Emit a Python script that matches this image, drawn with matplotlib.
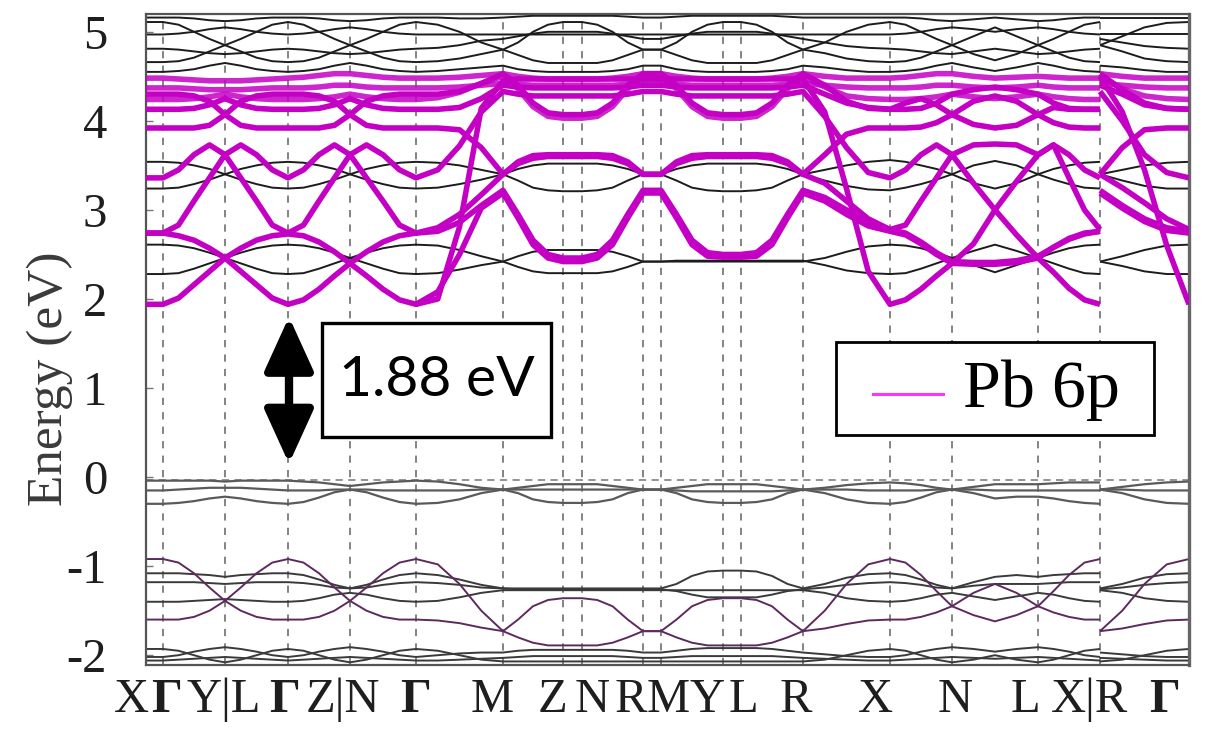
import numpy as np
import matplotlib
matplotlib.use("Agg")
import matplotlib.pyplot as plt
from matplotlib.patches import Rectangle
from matplotlib.lines import Line2D
from matplotlib.font_manager import FontProperties

SERIF = ["Liberation Serif", "DejaVu Serif"]
plt.rcParams["axes.unicode_minus"] = False
plt.rcParams["font.family"] = SERIF
nan = float("nan")

# ---------------- k-path ----------------
node_k = [0, 17, 79, 142, 204, 270, 357, 417, 436, 497, 515, 577, 595, 657, 744, 806, 892, 954, 954, 1043]
seg_samples = [0, 3, 3, 3, 3, 3, 3, 0, 3, 0, 3, 0, 3, 3, 3, 3, 3, 0, 3]
break_index = 57  # X|R discontinuity

xtick_labels = ["X", "Γ", "Y|L", "Γ", "Z|N", "Γ", "M", "Z", "N", "R", "M", "Y", "L", "R", "X", "N", "L", "X|R", "Γ"]
xtick_label_pos = [-15, 21, 78, 139, 197, 270, 346, 406, 446, 485, 522, 561, 597, 650, 729, 809, 879, 944, 1019]
yticks = [-2, -1, 0, 1, 2, 3, 4, 5]

# ---------------- Pb 6p projected bands (eV) ----------------
pb_1 = [1.94, 1.94,
        2.01, 2.16, 2.31, 2.46,  2.57, 2.66, 2.71, 2.73,
        2.71, 2.64, 2.53, 2.40,  2.26, 2.11, 1.99, 1.94,
        2.08, 2.50, 3.02, 3.19,  2.91, 2.61, 2.46, 2.42,  2.42,
        2.46, 2.61, 2.91, 3.19,  3.19,
        2.91, 2.61, 2.48, 2.47,  2.47,
        2.48, 2.61, 2.91, 3.19,  3.10, 2.95, 2.82, 2.76,
        2.72, 2.62, 2.50, 2.40,  2.39, 2.39, 2.41, 2.46,
        2.30, 2.12, 1.99, 1.94,  3.19,
        3.02, 2.87, 2.77, 2.74]
pb_2 = [2.74, 2.74,
        2.71, 2.66, 2.57, 2.46,  2.31, 2.16, 2.01, 1.94,
        1.99, 2.11, 2.26, 2.40,  2.53, 2.64, 2.71, 2.74,
        2.80, 2.95, 3.17, 3.40,  3.54, 3.61, 3.62, 3.62,  3.62,
        3.62, 3.61, 3.54, 3.40,  3.40,
        3.54, 3.61, 3.62, 3.62,  3.62,
        3.62, 3.61, 3.54, 3.40,  3.62, 3.85, 3.92, 3.92,
        3.92, 3.93, 3.98, 4.07,  3.96, 3.92, 3.95, 4.07,
        3.98, 3.93, 3.92, 3.92,  3.40,
        3.70, 3.90, 3.92, 3.92]
pb_3 = [3.36, 3.36,
        3.45, 3.62, 3.73, 3.62,  3.36, 3.10, 2.83, 2.74,
        2.83, 3.10, 3.36, 3.62,  3.73, 3.62, 3.45, 3.36,
        3.45, 3.72, 4.10, 4.33,  4.30, 4.28, 4.28, 4.28,  4.28,
        4.28, 4.28, 4.30, 4.33,  4.33,
        4.30, 4.28, 4.28, 4.28,  4.28,
        4.28, 4.28, 4.30, 4.33,  4.05, 3.70, 3.42, 3.36,
        3.45, 3.62, 3.73, 3.62,  3.30, 3.00, 2.72, 2.46,
        2.58, 2.67, 2.73, 2.76,  4.33,
        4.00, 3.62, 3.42, 3.36]
pb_4 = [2.74, 2.74,
        2.83, 3.10, 3.36, 3.62,  3.73, 3.62, 3.45, 3.36,
        3.45, 3.62, 3.73, 3.62,  3.36, 3.10, 2.83, 2.74,
        2.76, 2.86, 3.05, 3.22,  2.95, 2.66, 2.50, 2.46,  2.46,
        2.50, 2.66, 2.95, 3.22,  3.22,
        2.95, 2.66, 2.52, 2.50,  2.50,
        2.52, 2.66, 2.95, 3.22,  3.14, 3.00, 2.86, 2.78,
        2.74, 2.64, 2.52, 2.42,  2.41, 2.41, 2.43, 2.48,
        2.58, 2.68, 2.74, 2.76,  3.22,
        3.05, 2.90, 2.80, 2.76]
pb_5 = [3.92, 3.92,
        3.92, 3.92, 3.95, 4.07,  4.22, 4.28, 4.30, 4.30,
        4.30, 4.28, 4.22, 4.07,  3.95, 3.92, 3.92, 3.92,
        3.92, 3.90, 3.70, 3.40,  3.52, 3.58, 3.60, 3.60,  3.60,
        3.60, 3.58, 3.52, 3.40,  3.40,
        3.52, 3.58, 3.60, 3.60,  3.60,
        3.60, 3.58, 3.52, 3.40,  3.30, 3.10, 2.90, 2.78,
        2.83, 3.10, 3.36, 3.62,  3.73, 3.74, 3.73, 3.62,
        3.73, 3.62, 3.45, 3.36,  3.40,
        3.25, 3.08, 2.90, 2.78]
pb_6 = [4.30, 4.30,
        4.30, 4.28, 4.22, 4.07,  3.95, 3.92, 3.92, 3.92,
        3.92, 3.92, 3.95, 4.07,  4.22, 4.28, 4.30, 4.30,
        4.30, 4.33, 4.42, 4.53,  4.40, 4.20, 4.09, 4.07,  4.07,
        4.09, 4.20, 4.40, 4.53,  4.53,
        4.40, 4.20, 4.09, 4.07,  4.07,
        4.09, 4.20, 4.40, 4.53,  4.40, 4.22, 4.14, 4.13,
        4.20, 4.25, 4.18, 4.07,  4.22, 4.28, 4.22, 4.07,
        4.15, 4.13, 4.13, 4.13,  4.53,
        4.35, 4.20, 4.14, 4.13]
pb_7 = [nan, nan,
        nan, nan, nan, nan,  nan, nan, nan, nan,
        nan, nan, nan, nan,  nan, nan, nan, 1.94,
        2.00, 2.81, 4.14, 4.45,  4.47, 4.47, 4.47, 4.47,  4.47,
        4.47, 4.47, 4.47, 4.47,  4.47,
        4.47, 4.47, 4.47, 4.47,  4.47,
        4.47, 4.47, 4.47, 4.47,  4.10, 3.24, 2.31, 1.94,
        1.99, 2.11, 2.26, 2.40,  2.62, 3.00, 3.32, 3.62,
        3.73, 3.36, 3.00, 2.78,  4.50,
        4.10, 3.45, 2.60, 1.94]
pb_8 = [4.13, 4.13,
        4.13, 4.14, 4.18, 4.25,  4.18, 4.14, 4.13, 4.13,
        4.13, 4.14, 4.18, 4.25,  4.18, 4.14, 4.13, 4.13,
        4.13, 4.15, 4.25, 4.40,  4.38, 4.37, 4.37, 4.37,  4.37,
        4.37, 4.37, 4.38, 4.40,  4.40,
        4.38, 4.37, 4.37, 4.37,  4.37,
        4.37, 4.37, 4.38, 4.40,  4.30, 4.20, 4.15, 4.13,
        4.13, 4.14, 4.20, 4.30,  4.35, 4.38, 4.35, 4.30,
        4.20, 4.14, 4.13, 4.13,  4.40,
        4.30, 4.18, 4.14, 4.13]
pb_top_1 = [4.48, 4.48,
            4.47, 4.46, 4.45, 4.45,  4.45, 4.46, 4.47, 4.48,
            4.49, 4.51, 4.53, 4.53,  4.51, 4.49, 4.48, 4.48,
            4.48, 4.49, 4.51, 4.53,  4.50, 4.48, 4.47, 4.47,  4.47,
            4.47, 4.48, 4.50, 4.53,  4.53,
            4.50, 4.48, 4.47, 4.47,  4.47,
            4.47, 4.48, 4.50, 4.53,  4.50, 4.48, 4.48, 4.48,
            4.49, 4.51, 4.53, 4.53,  4.50, 4.48, 4.49, 4.50,
            4.49, 4.48, 4.48, 4.48,  4.53,
            4.50, 4.48, 4.48, 4.48]
pb_top_2 = [4.37, 4.37,
            4.37, 4.36, 4.35, 4.35,  4.35, 4.36, 4.37, 4.37,
            4.37, 4.38, 4.40, 4.40,  4.38, 4.37, 4.37, 4.37,
            4.37, 4.38, 4.40, 4.42,  4.41, 4.40, 4.40, 4.40,  4.40,
            4.40, 4.40, 4.41, 4.42,  4.42,
            4.41, 4.40, 4.40, 4.40,  4.40,
            4.40, 4.40, 4.41, 4.42,  4.40, 4.38, 4.37, 4.37,
            4.37, 4.38, 4.40, 4.40,  4.38, 4.37, 4.38, 4.40,
            4.38, 4.37, 4.37, 4.37,  4.42,
            4.40, 4.38, 4.37, 4.37]
pb_top_3 = [4.24, 4.24,
            4.24, 4.25, 4.27, 4.30,  4.27, 4.25, 4.24, 4.24,
            4.24, 4.25, 4.27, 4.30,  4.27, 4.25, 4.24, 4.24,
            4.26, 4.32, 4.42, 4.50,  4.36, 4.16, 4.05, 4.03,  4.03,
            4.05, 4.16, 4.36, 4.50,  4.50,
            4.36, 4.16, 4.05, 4.03,  4.03,
            4.05, 4.16, 4.36, 4.50,  4.38, 4.28, 4.25, 4.24,
            4.24, 4.25, 4.27, 4.30,  4.27, 4.25, 4.27, 4.30,
            4.27, 4.25, 4.24, 4.24,  4.50,
            4.36, 4.28, 4.25, 4.24]

# ---------------- other conduction bands (eV) ----------------
cb_1 = [3.54, 3.54,
        3.53, 3.50, 3.46, 3.40,  3.34, 3.29, 3.25, 3.24,
        3.25, 3.29, 3.34, 3.40,  3.46, 3.50, 3.53, 3.54,
        3.53, 3.50, 3.45, 3.40,  3.33, 3.25, 3.22, 3.21,  3.21,
        3.22, 3.25, 3.33, 3.40,  3.40,
        3.33, 3.25, 3.22, 3.21,  3.21,
        3.22, 3.25, 3.33, 3.40,  3.45, 3.50, 3.54, 3.56,
        3.54, 3.50, 3.46, 3.40,  3.30, 3.24, 3.30, 3.40,
        3.46, 3.50, 3.53, 3.54,  3.40,
        3.45, 3.50, 3.53, 3.54]
cb_2 = [3.24, 3.24,
        3.25, 3.29, 3.34, 3.40,  3.46, 3.50, 3.53, 3.54,
        3.53, 3.50, 3.46, 3.40,  3.34, 3.29, 3.25, 3.24,
        3.25, 3.29, 3.34, 3.40,  3.46, 3.50, 3.52, 3.52,  3.52,
        3.52, 3.50, 3.46, 3.40,  3.40,
        3.46, 3.50, 3.52, 3.52,  3.52,
        3.52, 3.50, 3.46, 3.40,  3.33, 3.27, 3.23, 3.22,
        3.25, 3.29, 3.34, 3.40,  3.50, 3.55, 3.50, 3.40,
        3.34, 3.29, 3.25, 3.24,  3.40,
        3.33, 3.27, 3.24, 3.24]
cb_3 = [2.61, 2.61,
        2.60, 2.57, 2.52, 2.46,  2.40, 2.34, 2.29, 2.28,
        2.29, 2.34, 2.40, 2.46,  2.52, 2.57, 2.60, 2.61,
        2.60, 2.55, 2.48, 2.42,  2.48, 2.53, 2.55, 2.55,  2.55,
        2.55, 2.53, 2.48, 2.42,  2.42,
        2.42, 2.42, 2.42, 2.42,  2.42,
        2.42, 2.42, 2.42, 2.42,  2.46, 2.53, 2.59, 2.61,
        2.60, 2.57, 2.52, 2.46,  2.38, 2.30, 2.38, 2.46,
        2.52, 2.57, 2.60, 2.61,  2.42,
        2.48, 2.55, 2.60, 2.61]
cb_4 = [2.28, 2.28,
        2.29, 2.34, 2.40, 2.46,  2.52, 2.57, 2.60, 2.61,
        2.60, 2.57, 2.52, 2.46,  2.40, 2.34, 2.29, 2.28,
        2.29, 2.33, 2.38, 2.42,  2.36, 2.31, 2.29, 2.29,  2.29,
        2.29, 2.31, 2.36, 2.42,  2.42,
        2.43, 2.43, 2.43, 2.43,  2.43,
        2.43, 2.43, 2.43, 2.43,  2.38, 2.32, 2.29, 2.28,
        2.29, 2.34, 2.40, 2.46,  2.54, 2.61, 2.54, 2.46,
        2.40, 2.34, 2.29, 2.28,  2.42,
        2.37, 2.31, 2.28, 2.28]
hi_1 = [5.11, 5.11,
        5.08, 5.00, 4.92, 4.85,  4.78, 4.71, 4.67, 4.66,
        4.67, 4.71, 4.78, 4.85,  4.92, 5.00, 5.08, 5.11,
        5.08, 5.00, 4.88, 4.80,  4.74, 4.68, 4.65, 4.65,  4.65,
        4.65, 4.68, 4.74, 4.80,  4.80,
        4.74, 4.68, 4.65, 4.65,  4.65,
        4.65, 4.68, 4.74, 4.80,  4.88, 5.00, 5.08, 5.11,
        5.08, 5.00, 4.92, 4.85,  4.75, 4.68, 4.75, 4.85,
        4.92, 5.00, 5.08, 5.11,  4.85,
        4.95, 5.05, 5.10, 5.11]
hi_2 = [4.66, 4.66,
        4.67, 4.71, 4.78, 4.85,  4.92, 5.00, 5.08, 5.11,
        5.08, 5.00, 4.92, 4.85,  4.78, 4.71, 4.67, 4.66,
        4.67, 4.70, 4.75, 4.80,  4.88, 5.00, 5.08, 5.11,  5.11,
        5.08, 5.00, 4.88, 4.80,  4.80,
        4.88, 5.00, 5.08, 5.11,  5.11,
        5.08, 5.00, 4.88, 4.80,  4.76, 4.70, 4.67, 4.66,
        4.67, 4.71, 4.78, 4.85,  4.95, 5.05, 4.95, 4.85,
        4.78, 4.71, 4.67, 4.66,  4.85,
        4.78, 4.70, 4.67, 4.66]
hi_3 = [4.97, 4.97,
        4.98, 5.00, 5.03, 5.05,  5.03, 5.00, 4.98, 4.97,
        4.98, 5.00, 5.03, 5.05,  5.03, 5.00, 4.98, 4.97,
        4.97, 4.97, 4.97, 4.97,  4.97, 4.97, 4.97, 4.97,  4.97,
        4.97, 4.97, 4.97, 4.97,  4.97,
        4.97, 4.97, 4.97, 4.97,  4.97,
        4.97, 4.97, 4.97, 4.97,  4.97, 4.97, 4.97, 4.97,
        4.98, 5.00, 5.03, 5.05,  5.03, 5.00, 5.03, 5.05,
        5.03, 5.00, 4.98, 4.97,  4.97,
        4.97, 4.97, 4.97, 4.97]
hi_4 = [4.55, 4.55,
        4.56, 4.58, 4.62, 4.65,  4.62, 4.58, 4.56, 4.55,
        4.56, 4.58, 4.62, 4.65,  4.62, 4.58, 4.56, 4.55,
        4.56, 4.58, 4.60, 4.62,  4.58, 4.56, 4.55, 4.55,  4.55,
        4.55, 4.56, 4.58, 4.62,  4.62,
        4.58, 4.56, 4.55, 4.55,  4.55,
        4.55, 4.56, 4.58, 4.62,  4.60, 4.57, 4.55, 4.55,
        4.56, 4.58, 4.62, 4.65,  4.60, 4.56, 4.60, 4.65,
        4.62, 4.58, 4.56, 4.55,  4.62,
        4.60, 4.57, 4.55, 4.55]
hi_5 = [4.81, 4.81,
        4.80, 4.78, 4.76, 4.75,  4.76, 4.78, 4.80, 4.81,
        4.80, 4.78, 4.76, 4.75,  4.76, 4.78, 4.80, 4.81,
        4.82, 4.85, 4.90, 4.92,  4.95, 4.98, 5.00, 5.00,  5.00,
        5.00, 4.98, 4.95, 4.92,  4.92,
        4.95, 4.98, 5.00, 5.00,  5.00,
        5.00, 4.98, 4.95, 4.92,  4.88, 4.84, 4.82, 4.81,
        4.80, 4.78, 4.76, 4.75,  4.78, 4.81, 4.78, 4.75,
        4.76, 4.78, 4.80, 4.81,  4.92,
        4.88, 4.84, 4.82, 4.81]
hi_6 = [5.16, 5.16,
        5.16, 5.15, 5.13, 5.12,  5.13, 5.15, 5.16, 5.16,
        5.16, 5.15, 5.13, 5.12,  5.13, 5.15, 5.16, 5.16,
        5.16, 5.15, 5.15, 5.16,  5.17, 5.18, 5.18, 5.18,  5.18,
        5.18, 5.18, 5.17, 5.16,  5.16,
        5.17, 5.18, 5.18, 5.18,  5.18,
        5.18, 5.18, 5.17, 5.16,  5.16, 5.16, 5.16, 5.16,
        5.16, 5.15, 5.13, 5.12,  5.14, 5.16, 5.14, 5.12,
        5.13, 5.15, 5.16, 5.16,  5.16,
        5.16, 5.16, 5.16, 5.16]

# ---------------- valence bands (eV) ----------------
vb_1 = [-0.04, -0.04,
        -0.04, -0.04, -0.04, -0.05,  -0.04, -0.04, -0.04, -0.04,
        -0.05, -0.06, -0.08, -0.10,  -0.08, -0.06, -0.05, -0.04,
        -0.05, -0.08, -0.12, -0.14,  -0.12, -0.10, -0.08, -0.08,  -0.08,
        -0.08, -0.10, -0.12, -0.14,  -0.14,
        -0.12, -0.10, -0.08, -0.08,  -0.08,
        -0.08, -0.10, -0.12, -0.14,  -0.12, -0.09, -0.07, -0.06,
        -0.07, -0.09, -0.12, -0.14,  -0.11, -0.08, -0.08, -0.08,
        -0.07, -0.06, -0.06, -0.06,  -0.14,
        -0.11, -0.08, -0.06, -0.05]
vb_2 = [-0.15, -0.15,
        -0.14, -0.13, -0.12, -0.12,  -0.12, -0.13, -0.14, -0.15,
        -0.15, -0.15, -0.14, -0.14,  -0.14, -0.15, -0.15, -0.15,
        -0.15, -0.15, -0.14, -0.14,  -0.14, -0.14, -0.14, -0.14,  -0.14,
        -0.14, -0.14, -0.14, -0.14,  -0.14,
        -0.15, -0.16, -0.16, -0.16,  -0.16,
        -0.16, -0.16, -0.15, -0.14,  -0.14, -0.14, -0.15, -0.15,
        -0.15, -0.15, -0.14, -0.14,  -0.14, -0.15, -0.15, -0.15,
        -0.15, -0.15, -0.15, -0.15,  -0.14,
        -0.14, -0.15, -0.15, -0.15]
vb_3 = [-0.30, -0.30,
        -0.29, -0.27, -0.24, -0.22,  -0.24, -0.27, -0.29, -0.30,
        -0.28, -0.23, -0.17, -0.14,  -0.17, -0.23, -0.28, -0.30,
        -0.29, -0.25, -0.18, -0.14,  -0.18, -0.25, -0.28, -0.29,  -0.29,
        -0.28, -0.25, -0.18, -0.14,  -0.14,
        -0.18, -0.25, -0.28, -0.29,  -0.29,
        -0.28, -0.25, -0.18, -0.14,  -0.18, -0.25, -0.29, -0.30,
        -0.28, -0.23, -0.17, -0.14,  -0.18, -0.24, -0.22, -0.22,
        -0.24, -0.27, -0.29, -0.30,  -0.14,
        -0.18, -0.25, -0.29, -0.30]
vb_4 = [-0.92, -0.92,
        -0.96, -1.08, -1.24, -1.39,  -1.50, -1.57, -1.60, -1.60,
        -1.60, -1.57, -1.50, -1.39,  -1.24, -1.08, -0.96, -0.92,
        -0.98, -1.20, -1.50, -1.73,  -1.60, -1.45, -1.38, -1.36,  -1.36,
        -1.38, -1.45, -1.60, -1.73,  -1.73,
        -1.60, -1.45, -1.38, -1.36,  -1.36,
        -1.38, -1.45, -1.60, -1.73,  -1.50, -1.20, -0.98, -0.92,
        -0.96, -1.10, -1.28, -1.45,  -1.55, -1.62, -1.55, -1.45,
        -1.28, -1.10, -0.96, -0.92,  -1.73,
        -1.50, -1.20, -0.98, -0.92]
vb_5 = [-1.60, -1.60,
        -1.60, -1.57, -1.50, -1.39,  -1.24, -1.08, -0.96, -0.92,
        -0.96, -1.08, -1.24, -1.39,  -1.50, -1.57, -1.60, -1.60,
        -1.61, -1.64, -1.69, -1.73,  -1.80, -1.86, -1.89, -1.89,  -1.89,
        -1.89, -1.86, -1.80, -1.73,  -1.73,
        -1.80, -1.86, -1.89, -1.89,  -1.89,
        -1.89, -1.86, -1.80, -1.73,  -1.70, -1.65, -1.61, -1.60,
        -1.60, -1.57, -1.52, -1.45,  -1.30, -1.20, -1.30, -1.45,
        -1.52, -1.57, -1.60, -1.60,  -1.73,
        -1.70, -1.65, -1.61, -1.60]
vb_6 = [-1.08, -1.08,
        -1.08, -1.09, -1.10, -1.12,  -1.10, -1.09, -1.08, -1.08,
        -1.10, -1.15, -1.21, -1.25,  -1.21, -1.15, -1.10, -1.08,
        -1.10, -1.15, -1.21, -1.25,  -1.25, -1.25, -1.25, -1.25,  -1.25,
        -1.25, -1.25, -1.25, -1.25,  -1.25,
        -1.20, -1.11, -1.06, -1.05,  -1.05,
        -1.06, -1.11, -1.20, -1.25,  -1.20, -1.13, -1.09, -1.08,
        -1.10, -1.15, -1.21, -1.25,  -1.18, -1.12, -1.10, -1.12,
        -1.10, -1.09, -1.08, -1.08,  -1.25,
        -1.20, -1.13, -1.09, -1.08]
vb_7 = [-1.18, -1.18,
        -1.18, -1.18, -1.19, -1.20,  -1.19, -1.18, -1.18, -1.18,
        -1.19, -1.21, -1.24, -1.25,  -1.24, -1.21, -1.19, -1.18,
        -1.19, -1.21, -1.24, -1.25,  -1.26, -1.26, -1.26, -1.26,  -1.26,
        -1.26, -1.26, -1.26, -1.26,  -1.26,
        -1.28, -1.32, -1.35, -1.35,  -1.35,
        -1.35, -1.32, -1.28, -1.26,  -1.24, -1.21, -1.19, -1.18,
        -1.19, -1.21, -1.24, -1.25,  -1.22, -1.20, -1.20, -1.20,
        -1.19, -1.18, -1.18, -1.18,  -1.26,
        -1.24, -1.21, -1.19, -1.18]
vb_8 = [-1.40, -1.40,
        -1.40, -1.39, -1.38, -1.37,  -1.38, -1.39, -1.40, -1.40,
        -1.39, -1.36, -1.32, -1.30,  -1.32, -1.36, -1.39, -1.40,
        -1.39, -1.35, -1.30, -1.27,  -1.27, -1.27, -1.27, -1.27,  -1.27,
        -1.27, -1.27, -1.27, -1.27,  -1.27,
        -1.27, -1.27, -1.27, -1.27,  -1.27,
        -1.27, -1.27, -1.27, -1.27,  -1.30, -1.36, -1.39, -1.40,
        -1.39, -1.36, -1.32, -1.30,  -1.34, -1.38, -1.34, -1.30,
        -1.32, -1.36, -1.39, -1.40,  -1.27,
        -1.30, -1.36, -1.39, -1.40]
vb_9 = [-2.02, -2.02,
        -2.00, -1.96, -1.93, -1.91,  -1.93, -1.96, -2.00, -2.02,
        -2.00, -1.96, -1.93, -1.91,  -1.93, -1.96, -2.00, -2.02,
        -2.00, -1.98, -1.97, -1.97,  -1.95, -1.94, -1.94, -1.94,  -1.94,
        -1.94, -1.94, -1.95, -1.97,  -1.97,
        -1.95, -1.93, -1.92, -1.92,  -1.92,
        -1.92, -1.93, -1.95, -1.97,  -1.99, -2.01, -2.02, -2.02,
        -2.00, -1.96, -1.93, -1.91,  -1.93, -1.96, -1.93, -1.91,
        -1.93, -1.96, -2.00, -2.02,  -1.97,
        -1.99, -2.01, -2.02, -2.02]
vb_10 = [-1.93, -1.93,
         -1.95, -2.00, -2.05, -2.08,  -2.05, -2.00, -1.95, -1.93,
         -1.95, -2.00, -2.05, -2.08,  -2.05, -2.00, -1.95, -1.93,
         -1.95, -2.00, -2.05, -2.07,  -2.07, -2.07, -2.07, -2.07,  -2.07,
         -2.07, -2.07, -2.07, -2.07,  -2.07,
         -2.07, -2.07, -2.07, -2.07,  -2.07,
         -2.07, -2.07, -2.07, -2.07,  -2.05, -2.00, -1.95, -1.93,
         -1.95, -2.00, -2.05, -2.08,  -2.05, -2.00, -2.05, -2.08,
         -2.05, -2.00, -1.95, -1.93,  -2.07,
         -2.05, -2.00, -1.95, -1.93]
vb_11 = [-2.06, -2.06,
         -2.05, -2.04, -2.03, -2.02,  -2.03, -2.04, -2.05, -2.06,
         -2.05, -2.04, -2.03, -2.02,  -2.03, -2.04, -2.05, -2.06,
         -2.06, -2.05, -2.04, -2.03,  -2.02, -2.01, -2.01, -2.01,  -2.01,
         -2.01, -2.01, -2.02, -2.03,  -2.03,
         -2.02, -2.01, -2.01, -2.01,  -2.01,
         -2.01, -2.01, -2.02, -2.03,  -2.04, -2.05, -2.06, -2.06,
         -2.05, -2.04, -2.03, -2.02,  -2.03, -2.04, -2.03, -2.02,
         -2.03, -2.04, -2.05, -2.06,  -2.03,
         -2.04, -2.05, -2.06, -2.06]

pb6p_bands = [pb_1, pb_2, pb_3, pb_4, pb_5, pb_6, pb_7, pb_8]
pb6p_top_bands = [pb_top_1, pb_top_2, pb_top_3]
black_cb_bands = [cb_1, cb_2, cb_3, cb_4, hi_1, hi_2, hi_3, hi_4, hi_5, hi_6]
vb_top_bands = [vb_1, vb_2, vb_3]
vb_low_bands = [vb_6, vb_7, vb_8, vb_9, vb_10, vb_11]
vb_pb_bands = [vb_4, vb_5]

gap_label = "1.88 eV"
legend_label = "Pb 6p"

# ---------------- build k grid ----------------
kgrid = [node_k[0]]
for i in range(len(node_k) - 1):
    a, b = node_k[i], node_k[i + 1]
    n = seg_samples[i]
    for j in range(1, n + 1):
        kgrid.append(a + (b - a) * j / (n + 1))
    kgrid.append(b)
kgrid = np.array(kgrid, dtype=float)

all_bands = pb6p_bands + pb6p_top_bands + black_cb_bands + vb_top_bands + vb_low_bands + vb_pb_bands
for bnd in all_bands:
    assert len(bnd) == len(kgrid), (len(bnd), len(kgrid))

# ---------------- figure ----------------
W, H = 1209, 733
fig = plt.figure(figsize=(W / 100, H / 100), dpi=100)
ax_l, ax_r, ax_t, ax_b = 146, 1189, 14, 665
ax = fig.add_axes([ax_l / W, 1 - ax_b / H, (ax_r - ax_l) / W, (ax_b - ax_t) / H])
ax.set_xlim(node_k[0], node_k[-1])
ax.set_ylim(-2.11, 5.20)


def draw(vals, **kw):
    v = np.array(vals, dtype=float)
    ax.plot(kgrid[:break_index], v[:break_index], solid_joinstyle="round", solid_capstyle="butt", **kw)
    ax.plot(kgrid[break_index:], v[break_index:], solid_joinstyle="round", solid_capstyle="butt", **kw)


# vertical dashed lines at high-symmetry points
for kx in sorted(set(node_k[1:-1])):
    ax.axvline(kx, color="#7a7a7a", lw=1.3, ls=(0, (4, 4)), zorder=1)
ax.axhline(-0.03, color="#8a8a8a", lw=1.3, ls=(0, (4, 3)), zorder=1)

for bnd in black_cb_bands:
    draw(bnd, color="#1c1c1c", lw=1.4, zorder=2)
for bnd in vb_top_bands:
    draw(bnd, color="#5a5a5a", lw=1.6, zorder=2)
for bnd in vb_low_bands:
    draw(bnd, color="#3a3a3a", lw=1.4, zorder=2)
for bnd in vb_pb_bands:
    draw(bnd, color="#5e2a5e", lw=1.4, zorder=2)

magenta = "#c400c4"
for bnd in pb6p_top_bands:
    draw(bnd, color=magenta, lw=4.0, alpha=0.85, zorder=3)
for bnd in pb6p_bands:
    draw(bnd, color=magenta, lw=4.0, zorder=4)

# axes styling
for side in ["left", "bottom", "top"]:
    ax.spines[side].set_color("#555555")
    ax.spines[side].set_linewidth(1.6)
ax.spines["right"].set_color("#666666")
ax.spines["right"].set_linewidth(2.4)

serif_fp = FontProperties(family="Liberation Serif", size=37)
ax.set_xticks([])
ax.set_yticks(yticks)
ax.set_yticklabels([str(t) for t in yticks], fontsize=35, color="#1e1e1e")
ax.tick_params(axis="y", direction="in", length=5, width=1, color="#777777", pad=28)
ax.set_ylabel("Energy (eV)", fontproperties=serif_fp, color="#3a3a3a")
ax.yaxis.set_label_coords(-0.07, 0.44)

xt = ax.get_xaxis_transform()
for lab, xp in zip(xtick_labels, xtick_label_pos):
    ax.text(xp, -0.053, lab, transform=xt, ha="center", va="center",
            fontsize=35, color="#1e1e1e", fontweight=("bold" if lab == "Γ" else "normal"),
            clip_on=False)

# band-gap arrow and box
ax.annotate("", xy=(143, 1.80), xytext=(143, 0.15),
            arrowprops=dict(arrowstyle="<|-|>,head_length=1.1,head_width=0.5",
                            mutation_scale=30, lw=6, color="black", shrinkA=0, shrinkB=0),
            zorder=6)
ax.add_patch(Rectangle((176, 0.45), 229, 1.28, facecolor="white", edgecolor="black", lw=2.4, zorder=6))
ax.text(290.5, 1.09, gap_label, ha="center", va="center", fontfamily=["Lato", "DejaVu Sans"],
        fontsize=41, color="black", zorder=7)

# legend
ax.add_patch(Rectangle((690, 0.47), 318, 1.05, facecolor="white", edgecolor="black", lw=2.0, zorder=6))
ax.add_line(Line2D([727, 797], [0.93, 0.93], color="#ff33ff", lw=2.2, zorder=7))
ax.text(817, 0.98, legend_label, ha="left", va="center", fontsize=49,
        color="black", zorder=7)

fig.savefig("out.png", dpi=100)
